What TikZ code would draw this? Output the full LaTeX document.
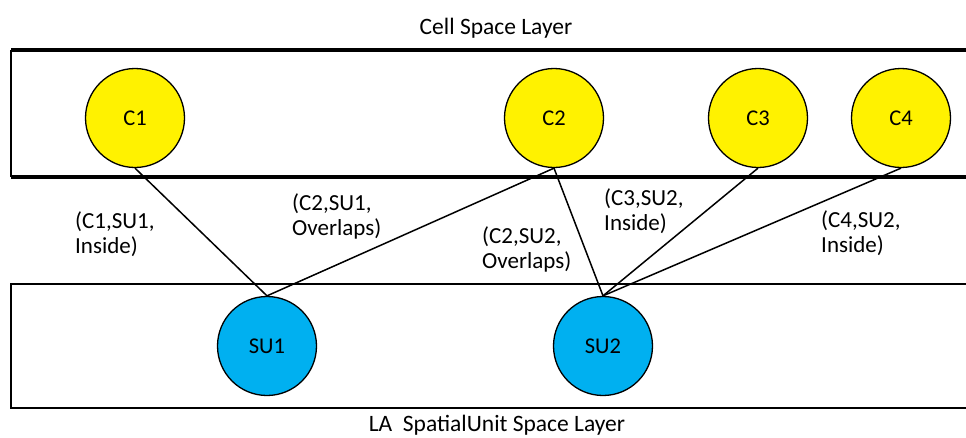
\documentclass[tikz,border=0pt]{standalone}
\usepackage{fontspec}
\setmainfont{Carlito}
\usetikzlibrary{positioning}
\definecolor{unitblue}{RGB}{0,176,240}
\tikzset{
  cell/.style={circle, draw, line width=1.3pt, fill=yellow, minimum size=99pt, inner sep=0pt, font=\fontsize{22.5}{26}\selectfont},
  unit/.style={cell, fill=unitblue},
  rel/.style={line width=1.5pt},
  rellabel/.style={anchor=west, align=left, inner sep=0pt, font=\fontsize{23}{25}\selectfont},
  layername/.style={inner sep=0pt, font=\fontsize{23.5}{27}\selectfont}
}

\begin{document}
\begin{tikzpicture}[x=1pt,y=-1pt]
		%%%%% START %%%%%
		\useasboundingbox (0,0) rectangle (966,437);
		
		% cell space layer
		\draw[line width=3.2pt] (966,50) -- (11,50);
		\draw[line width=3.6pt] (11,177) -- (966,177);
		\draw[line width=2pt] (11,50) -- (11,177);
		\node[layername] (celltitle) at (496,28) {Cell Space Layer};
		
		% spatial unit layer
		\draw[line width=2pt] (966,284) -- (11,284) -- (11,408) -- (966,408);
		\node[layername] (unittitle) at (497,425) {LA\ \ SpatialUnit Space Layer};
		
		\node[cell] (c1) at (135,118) {C1};
		\node[cell] (c2) at (554,118) {C2};
		\node[cell] (c3) at (758,118) {C3};
		\node[cell] (c4) at (901,118) {C4};
		
		\node[unit] (su1) at (267,346) {SU1};
		\node[unit] (su2) at (603,346) {SU2};
		
		\draw[rel] (c1.south) -- (su1.north);
		\draw[rel] (c2.south) -- (su1.north);
		\draw[rel] (c2.south) -- (su2.north);
		\draw[rel] (c3.south) -- (su2.north);
		\draw[rel] (c4.south) -- (su2.north);
		
		\node[rellabel] (r11) at (75,234) {(C1,SU1,\\Inside)};
		\node[rellabel] (r21) at (292,216) {(C2,SU1,\\Overlaps)};
		\node[rellabel] (r22) at (482,249) {(C2,SU2,\\Overlaps)};
		\node[rellabel] (r32) at (604,211) {(C3,SU2,\\Inside)};
		\node[rellabel] (r42) at (821,233) {(C4,SU2,\\Inside)};
		
		%%%%% END %%%%%
\end{tikzpicture}
\end{document}
